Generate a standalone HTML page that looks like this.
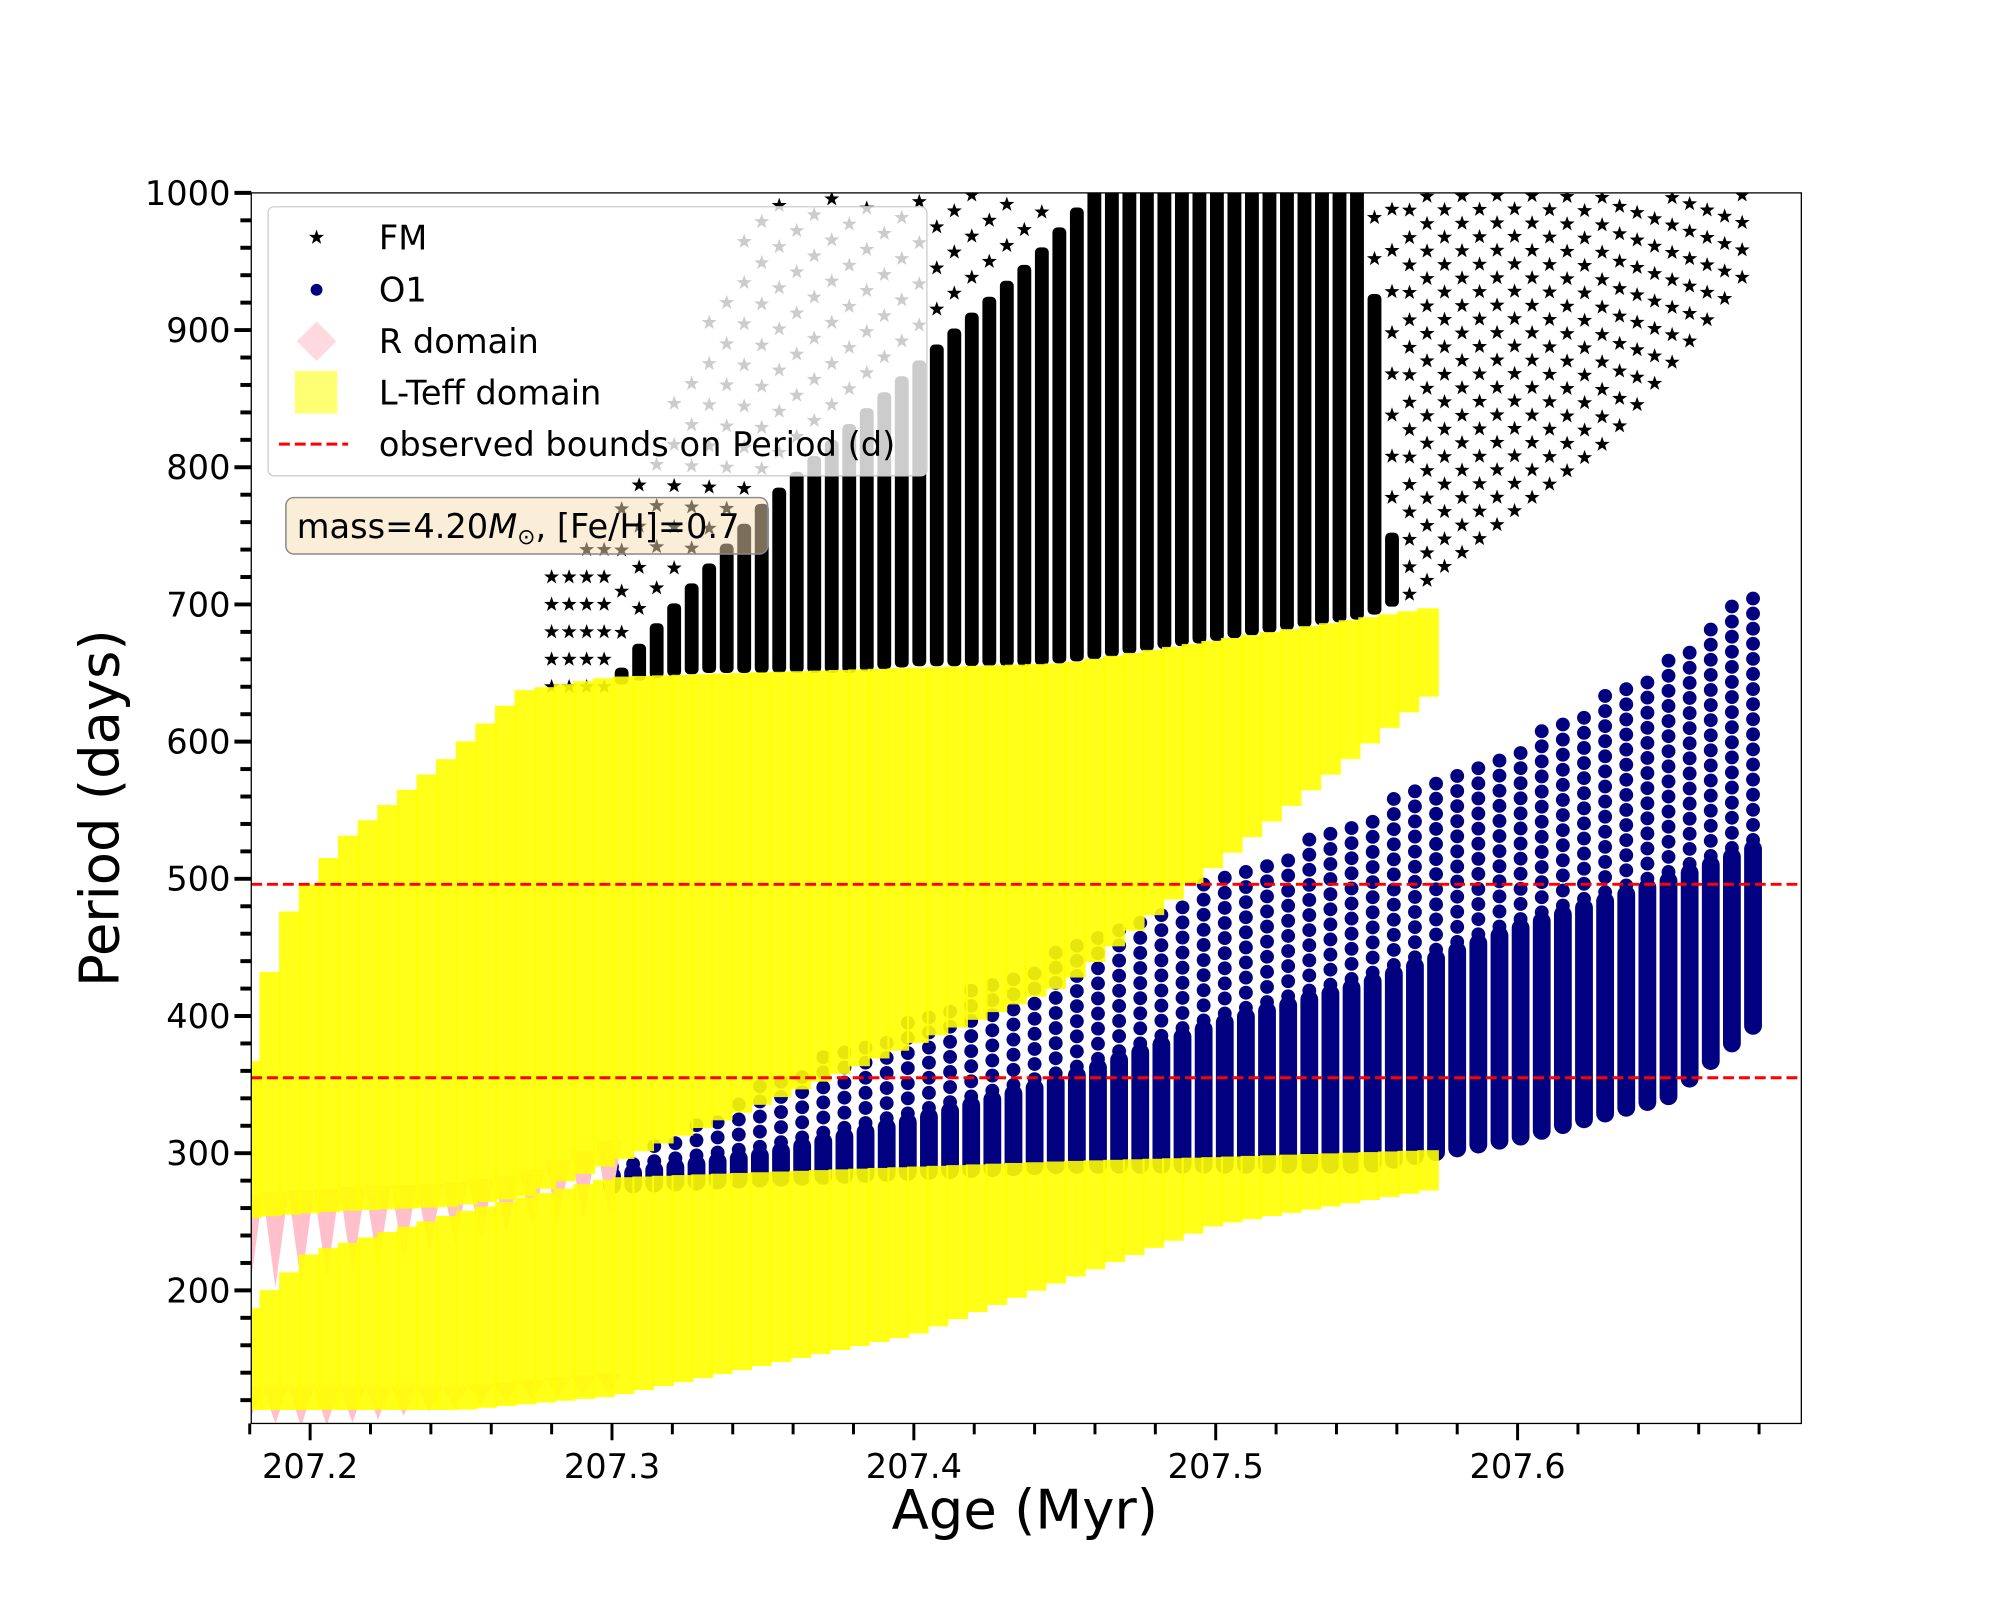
<!DOCTYPE html>
<html><head><meta charset="utf-8"><style>
html,body{margin:0;padding:0;background:#fff;}
svg{display:block;font-family:"DejaVu Sans","Liberation Sans",sans-serif;}
</style></head><body>
<svg id="chart" width="2000" height="1600" viewBox="0 0 2000 1600" xmlns="http://www.w3.org/2000/svg">
<defs>
<clipPath id="plotclip"><rect x="254" y="195" width="1567" height="1244"/></clipPath>
<polygon id="star" points="0,-8 1.9,-2.6 7.6,-2.5 3.05,1 4.7,6.5 0,3.2 -4.7,6.5 -3.05,1 -7.6,-2.5 -1.9,-2.6"/>
</defs>
<rect x="0" y="0" width="2000" height="1600" fill="#fff"/>
<g transform="scale(0.9892)">
<g id="plot" clip-path="url(#plotclip)"></g>
<rect x="254" y="195" width="1567" height="1244" fill="none" stroke="#000" stroke-width="1.3"/>
<g id="axes"></g>
<g id="legend">
<rect x="271" y="209" width="666" height="272" rx="6" fill="#fff" fill-opacity="0.8" stroke="#ccc" stroke-width="1.3"/>
<g><use href="#star" transform="translate(320,240)" fill="#000"/><text x="383" y="252" font-size="34">FM</text></g>
<g><circle cx="320" cy="293" r="6" fill="#000080"/><text x="383" y="305" font-size="34">O1</text></g>
<g><polygon points="320,325 340,345 320,365 300,345" fill="#ffc0cb" fill-opacity="0.6"/><text x="383" y="357" font-size="34">R domain</text></g>
<g><rect x="298" y="375" width="43" height="43" fill="#ffff00" fill-opacity="0.55"/><text x="383" y="409" font-size="34">L-Teff domain</text></g>
<g><line x1="282" y1="449" x2="352" y2="449" stroke="red" stroke-width="3" stroke-dasharray="11,5"/><text x="383" y="461" font-size="34">observed bounds on Period (d)</text></g>
</g>
<g>
<rect x="289" y="503" width="487" height="57" rx="8" fill="#f5deb3" fill-opacity="0.5" stroke="#888" stroke-width="1.5"/>
<text x="300" y="544" font-size="34">mass=4.20<tspan font-style="italic">M</tspan><tspan font-size="22" dy="6">⊙</tspan><tspan dy="-6">, [Fe/H]=0.7</tspan></text>
</g>
<text x="1036" y="1545" font-size="55" text-anchor="middle">Age (Myr)</text>
<text transform="translate(120,817) rotate(-90)" font-size="55" text-anchor="middle">Period (days)</text>
</g>
</svg>
<script>
// ---- data ----
const xTicks = [207.2, 207.3, 207.4, 207.5, 207.6];
const yTicks = [200, 300, 400, 500, 600, 700, 800, 900, 1000];
const periodBounds = [496, 355];
// FM (black stars)
const fmAges      = [207.28, 207.30, 207.31, 207.33, 207.35, 207.38, 207.40, 207.44, 207.46, 207.55, 207.56, 207.60, 207.63, 207.66, 207.675];
const fmLow       = [640, 640, 645, 650, 650, 650, 655, 655, 660, 690, 700, 770, 820, 900, 940];
const fmDenseTop  = [640, 640, 670, 720, 770, 830, 870, 950, 1000, 1000, 700, 770, 820, 900, 940];
const fmSparseTop = [720, 760, 800, 900, 1000, 1000, 1000, 1000, 1000, 1000, 1000, 1000, 1000, 1000, 1000];
// O1 (navy dots)
const o1Ages      = [207.30, 207.35, 207.40, 207.45, 207.50, 207.55, 207.60, 207.65, 207.68];
const o1Low       = [270, 275, 280, 285, 285, 285, 305, 335, 390];
const o1DenseTop  = [290, 305, 330, 360, 400, 430, 470, 505, 530];
const o1SparseTop = [290, 350, 400, 450, 500, 550, 600, 660, 715];
// L-Teff domain upper band
const yuAges = [207.18, 207.19, 207.21, 207.245, 207.27, 207.30, 207.45, 207.57];
const yuTop  = [360, 460, 520, 580, 630, 640, 650, 690];
const yuLow  = [260, 262, 265, 268, 275, 300, 430, 640];
// L-Teff domain lower band
const ylAges = [207.18, 207.20, 207.25, 207.30, 207.40, 207.45, 207.50, 207.57];
const ylTop  = [180, 220, 250, 275, 283, 287, 290, 295];
const ylLow  = [120, 120, 120, 130, 175, 215, 255, 280];
// R domain (pink) extents below bands
const rAges = [207.18, 207.20, 207.22, 207.25, 207.27, 207.30];
const rLowU = [200, 205, 215, 235, 245, 255];
const rLowL = [105, 100, 105, 115, 120, 125];

// ---- axes ----
const X0 = 254, X1 = 1821, Y0 = 195, Y1 = 1439;
const xMin = 207.1805, xMax = 207.694, yMin = 103, yMax = 1000;
const X = a => X0 + (a - xMin) / (xMax - xMin) * (X1 - X0);
const Y = p => Y1 - (p - yMin) / (yMax - yMin) * (Y1 - Y0);
const NS = 'http://www.w3.org/2000/svg';
function mk(tag, attrs, parent) { const e = document.createElementNS(NS, tag); for (const k in attrs) e.setAttribute(k, attrs[k]); parent.appendChild(e); return e; }
function interp(xs, ys, x) {
  if (x <= xs[0]) return ys[0];
  for (let i = 1; i < xs.length; i++) if (x <= xs[i]) { const t = (x - xs[i-1]) / (xs[i] - xs[i-1]); return ys[i-1] + t * (ys[i] - ys[i-1]); }
  return ys[ys.length - 1];
}
const plot = document.getElementById('plot');
const axes = document.getElementById('axes');

// FM stars
const gFM = mk('g', {}, plot);


for (let a = fmAges[0]; a <= fmAges[fmAges.length - 1] + 1e-9; a += 0.0058) {
  const lo = interp(fmAges, fmLow, a), dt = interp(fmAges, fmDenseTop, a), st = interp(fmAges, fmSparseTop, a);
  const x = X(a);
  if (dt > lo + 2) {
    const r = mk('rect', { x: x - 7, y: Y(dt) - 6, width: 14, height: Y(lo) - Y(dt) + 6, rx: 5, fill: '#000' }, gFM);
    
    
  }
  const start = Math.max(dt, lo);
  const step = (dt > lo + 2) ? 30 : 20;
  for (let p = start + (dt > lo + 2 ? step : 0); p <= st; p += step) {
    const s = mk('use', { href: '#star', transform: `translate(${x},${Y(p)})`, fill: '#000' }, gFM);
    
    
  }
}
// O1 dots
const gO1 = mk('g', {}, plot);


for (let a = o1Ages[0]; a <= o1Ages[o1Ages.length - 1] + 1e-9; a += 0.007) {
  const lo = interp(o1Ages, o1Low, a), dt = interp(o1Ages, o1DenseTop, a), st = interp(o1Ages, o1SparseTop, a);
  const x = X(a);
  const r = mk('rect', { x: x - 9, y: Y(dt), width: 18, height: Y(lo) - Y(dt), rx: 9, fill: '#000080' }, gO1);
  
  
  for (let p = dt; p <= st; p += 11) {
    const c = mk('circle', { cx: x, cy: Y(p), r: 7, fill: '#000080' }, gO1);
    
    
  }
}
// R domain (pink)
const gR = mk('g', {}, plot);


for (let a = rAges[0]; a <= rAges[rAges.length - 1] + 1e-9; a += 0.0085) {
  const x = X(a);
  const lu = interp(rAges, rLowU, a), ll = interp(rAges, rLowL, a);
  const tu = interp(yuAges, yuLow, a) + 10, tl = interp(ylAges, ylLow, a) + 10;
  const p1 = mk('polygon', { points: `${x-13},${Y(tu)} ${x+13},${Y(tu)} ${x},${Y(lu)}`, fill: '#ffc0cb' }, gR);
  
  
  const p2 = mk('polygon', { points: `${x-13},${Y(tl)} ${x+13},${Y(tl)} ${x},${Y(ll)}`, fill: '#ffc0cb' }, gR);
  
  
}
// L-Teff domain (yellow)
const gY = mk('g', {}, plot);


function band(ages, tops, lows) {
  for (let a = ages[0]; a <= ages[ages.length - 1] + 1e-9; a += 0.0065) {
    const x = X(a), t = interp(ages, tops, a), l = interp(ages, lows, a);
    const r = mk('rect', { x: x - 10, y: Y(t) - 10, width: 22, height: Y(l) - Y(t) + 20, fill: '#ffff00', 'fill-opacity': 0.9 }, gY);
    
    
  }
}
band(yuAges, yuTop, yuLow);
band(ylAges, ylTop, ylLow);
// bounds
periodBounds.forEach(b => {
  const l = mk('line', { x1: X0, x2: X1, y1: Y(b), y2: Y(b), stroke: 'red', 'stroke-width': 3, 'stroke-dasharray': '11,5' }, plot);
  
  
});
// x ticks
for (let v = 207.18; v <= 207.69; v += 0.02) {
  const isMaj = xTicks.some(t => Math.abs(t - v) < 1e-6);
  const tk = mk('line', { x1: X(v), x2: X(v), y1: Y1, y2: Y1 + (isMaj ? 17 : 11), stroke: '#000', 'stroke-width': 3 }, axes);
  
  
}
xTicks.forEach(v => {
  const t = mk('text', { x: X(v), y: Y1 + 55, 'font-size': 34, 'text-anchor': 'middle' }, axes);
  t.textContent = v.toFixed(1);
  
  
});
// y ticks
for (let v = 120; v <= 1000; v += 20) {
  const isMaj = yTicks.includes(v);
  const tk = mk('line', { x1: X0, x2: X0 - (isMaj ? 17 : 11), y1: Y(v), y2: Y(v), stroke: '#000', 'stroke-width': 4 }, axes);
  
  
}
yTicks.forEach(v => {
  const t = mk('text', { x: X0 - 21, y: Y(v) + 12, 'font-size': 34, 'text-anchor': 'end' }, axes);
  t.textContent = String(v);
  
  
});
</script>
</body></html>
